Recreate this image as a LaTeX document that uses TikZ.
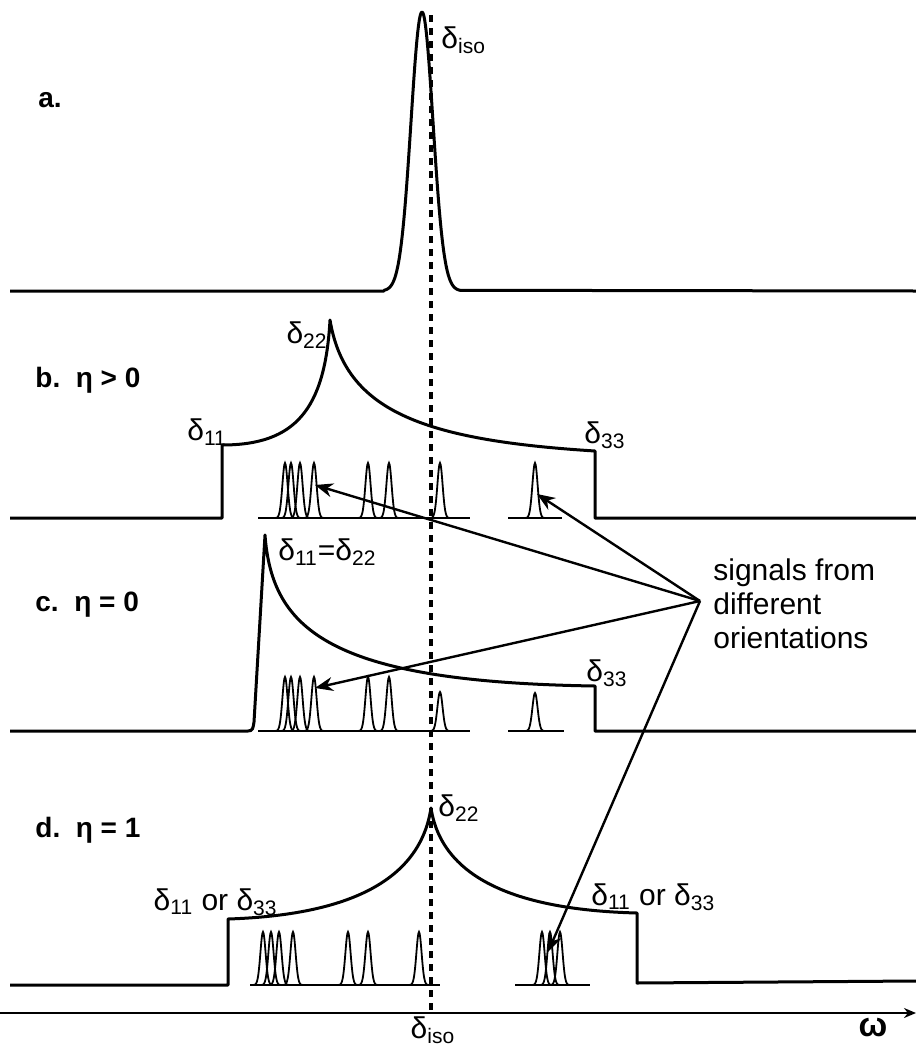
\documentclass[tikz,border=0pt]{standalone}
\usepackage{fontspec}
\setmainfont{Liberation Sans}
\usetikzlibrary{arrows.meta}

\tikzset{
  spec/.style={line width=1.5pt, line join=round},
  sig/.style={line width=0.9pt},
  lbl/.style={inner sep=0pt, font=\fontsize{15}{17}\selectfont},
  panel/.style={inner sep=0pt, font=\fontsize{14}{17}\selectfont\bfseries},
  pointer/.style={line width=1.2pt, -{Stealth[length=9pt,width=7pt]}},
}
\newcommand{\dl}[1]{δ\textsubscript{#1}}
% one narrow line: centre, baseline, height
\newcommand{\sigpeak}[3]{\draw[sig] plot[domain=#1-10:#1+10, samples=31, smooth] (\x,{#2-#3*exp(-((\x-#1)/2.6)^2/2)});}

\begin{document}
\begin{tikzpicture}[x=0.5pt, y=-0.5pt]
\useasboundingbox (0,0) rectangle (916,1050);

% a. isotropic line
\draw[spec] (10,291) -- (384,291) -- plot[domain=384:460, samples=91, smooth] (\x,{291-279*exp(-((\x-422)/11)^2/2)}) -- (916,291);
\node[panel] (pa) at (50,100) {a.};
\node[lbl, anchor=west] (isotop) at (441,40) {\dl{iso}};

% b. eta > 0
\draw[spec] (10,518) -- (222,518) -- (222,445) .. controls (295,445) and (325,410) .. (330,320)
  .. controls (345,410) and (420,440) .. (595,451) -- (595,518) -- (916,518);
\draw[sig] (258,518) -- (470,518);
\draw[sig] (508,518) -- (562,518);
\foreach \c in {285,291,300,314,368,389,440,535} {\sigpeak{\c}{518}{55}}
\node[panel, anchor=west] (pb) at (35,380) {b.\ \ η > 0};
\node[lbl, anchor=west] (b11) at (187,432) {\dl{11}};
\node[lbl, anchor=east] (b22) at (328,335) {\dl{22}};
\node[lbl, anchor=west] (b33) at (584,435) {\dl{33}};

% c. eta = 0
\draw[spec] (10,731) -- (248,731) .. controls (253,731) and (253,728) .. (254,722) -- (265,535)
  .. controls (272,630) and (330,682) .. (595,686) -- (595,731) -- (916,731);
\draw[sig] (258,731) -- (470,731);
\draw[sig] (508,731) -- (564,731);
\foreach \c in {285,291,300,314,368,389} {\sigpeak{\c}{731}{54}}
\sigpeak{440}{731}{39}
\sigpeak{535}{731}{38}
\node[panel, anchor=west] (pc) at (35,605) {c.\ \ η = 0};
\node[lbl, anchor=west] (c12) at (278,552) {\dl{11}=\dl{22}};
\node[lbl, anchor=west] (c33) at (586,673) {\dl{33}};

% d. eta = 1
\draw[spec] (10,985) -- (228,985) -- (228,919) .. controls (350,915) and (420,880) .. (431,808)
  .. controls (442,880) and (520,910) .. (637,913) -- (637,983) -- (916,981);
\draw[sig] (250,985) -- (440,985);
\draw[sig] (515,985) -- (590,985);
\foreach \c in {263,271,279,293,348,368,419,542,550,560} {\sigpeak{\c}{985}{53}}
\node[panel, anchor=west] (pd) at (35,830) {d.\ \ η = 1};
\node[lbl, anchor=west] (d22) at (438,808) {\dl{22}};
\node[lbl, anchor=east] (dl) at (278,902) {\dl{11} or \dl{33}};
\node[lbl, anchor=west] (dr) at (591,897) {\dl{11} or \dl{33}};

% pointers to the single lines
\node[lbl, anchor=west, align=left] (note) at (713,604) {signals from\\different\\orientations};
\coordinate (src) at (700,601);
\coordinate (tb1) at (315,485);
\coordinate (tb2) at (537,494);
\coordinate (tc) at (315,688);
\coordinate (td) at (548,952);
\draw[pointer] (src) -- (tb1);
\draw[pointer] (src) -- (tb2);
\draw[pointer] (src) -- (tc);
\draw[pointer] (src) -- (td);

% frequency axis and isotropic shift
\coordinate (isoT) at (431,15);
\coordinate (isoB) at (431,1012);
\draw[line width=1.6pt, dash pattern=on 3.5pt off 3pt] (isoT) -- (isoB);
\coordinate (axL) at (0,1013);
\coordinate (axR) at (916,1013);
\draw[line width=1.4pt, -{Stealth[length=6pt,width=5pt]}] (axL) -- (axR);
\node[lbl] (isobot) at (433,1030) {\dl{iso}};
\node[panel, font=\fontsize{17}{18}\selectfont\bfseries] (om) at (873,1027) {ω};
\end{tikzpicture}
\end{document}
